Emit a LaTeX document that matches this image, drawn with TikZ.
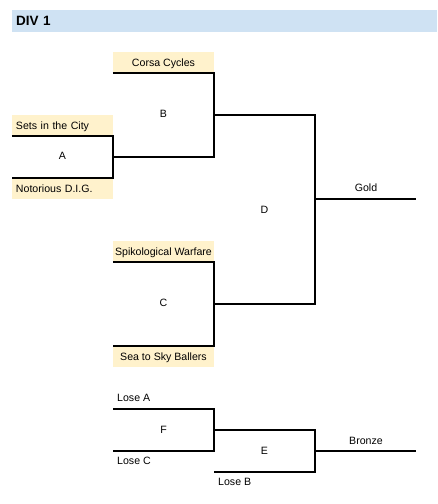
\documentclass[tikz,border=0pt]{standalone}
\usepackage{fontspec}
\setmainfont{Liberation Sans}
\usetikzlibrary{positioning,calc}
\definecolor{headblue}{HTML}{CFE2F3}
\definecolor{teamyellow}{HTML}{FFF2CC}

\tikzset{
  teambox/.style={fill=teamyellow, minimum width=101pt, minimum height=21pt, inner sep=0pt, text height=7.6pt, text depth=0pt, font=\fontsize{10.6}{12}\selectfont},
  matchlabel/.style={inner sep=0pt, text height=7.6pt, text depth=0pt, font=\fontsize{10.6}{12}\selectfont},
  bracket/.style={draw=black, line width=1.8pt}
}

\begin{document}
\begin{tikzpicture}[x=1pt,y=-1pt]
\useasboundingbox (0,0) rectangle (437,504);
\node[fill=headblue, minimum height=22pt, text width=417pt, inner xsep=4pt, inner ysep=0pt, align=left, anchor=north west, font=\bfseries\fontsize{13.5}{15}\selectfont] (head) at (12,10) {DIV 1};

% teams
\node[teambox] (corsa) at (163.5,62.5) {Corsa Cycles};
\node[teambox, text width=93pt, align=left] (sets) at (62.5,125.5) {Sets in the City};
\node[teambox, text width=93pt, align=left] (notorious) at (62.5,188.5) {Notorious D.I.G.};
\node[teambox] (spiko) at (163.5,251.5) {Spikological Warfare};
\node[teambox] (sea) at (163.5,356.5) {Sea to Sky Ballers};

% match letters
\node[matchlabel] (a) at (62.5,156) {A};
\node[matchlabel] (b) at (163.5,114) {B};
\node[matchlabel] (c) at (163.5,303) {C};
\node[matchlabel] (d) at (264.5,209.5) {D};
\node[matchlabel] (gold) at (366,188) {Gold};

% gold bracket
\coordinate (aout) at (113,157);
\coordinate (bout) at (214,115);
\coordinate (cout) at (214,304);
\coordinate (dtop) at (315,115);
\coordinate (dbot) at (315,304);
\coordinate (goldend) at (416,199);
\draw[bracket] (sets.south west) -- (sets.south east) -- (notorious.north east) -- (notorious.north west);
\draw[bracket] (corsa.south west) -- (corsa.south east) |- (aout);
\draw[bracket] (spiko.south west) -- (spiko.south east) -- (sea.north east) -- (sea.north west);
\draw[bracket] (bout) -- (dtop) -- (dbot) -- (cout);
\draw[bracket] (dtop |- goldend) -- (goldend);

% bronze bracket
\node[matchlabel, anchor=west] (losea) at (117,398) {Lose A};
\node[matchlabel, anchor=west] (losec) at (117,461) {Lose C};
\node[matchlabel, anchor=west] (loseb) at (218,482) {Lose B};
\node[matchlabel] (f) at (163.5,429.5) {F};
\node[matchlabel] (e) at (264.5,450.5) {E};
\node[matchlabel] (bronze) at (366,440.5) {Bronze};

\coordinate (fa) at (113,409);
\coordinate (fb) at (214,409);
\coordinate (fc) at (214,451);
\coordinate (fd) at (113,451);
\coordinate (fout) at (214,430);
\coordinate (etop) at (315,430);
\coordinate (ebot) at (315,472);
\coordinate (eleft) at (214,472);
\coordinate (bronzeend) at (416,451);
\draw[bracket] (fa) -- (fb) -- (fc) -- (fd);
\draw[bracket] (fout) -- (etop) -- (ebot) -- (eleft);
\draw[bracket] (etop |- bronzeend) -- (bronzeend);
\end{tikzpicture}
\end{document}
